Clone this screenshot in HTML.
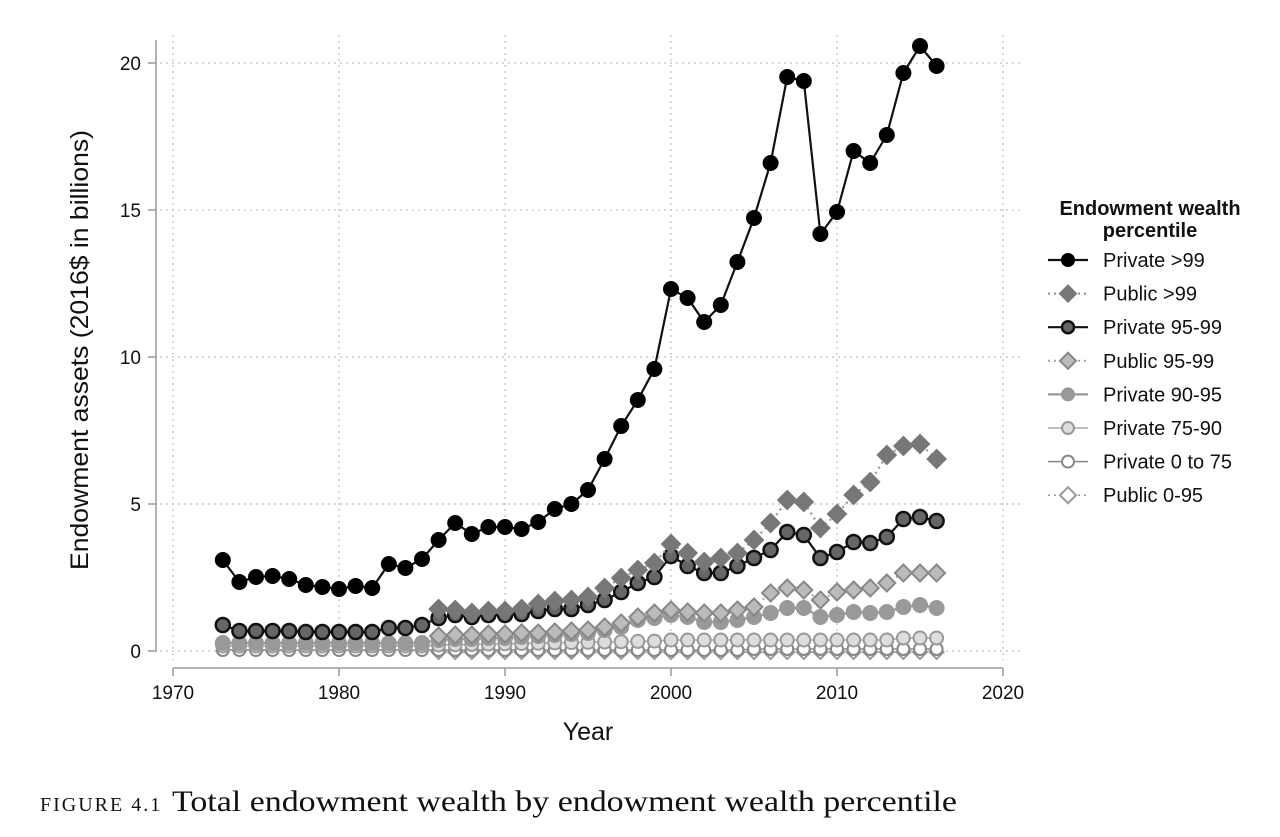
<!DOCTYPE html>
<html><head><meta charset="utf-8"><style>
html,body{margin:0;padding:0;background:#fff;}
svg{display:block;font-family:"Liberation Sans",sans-serif;}
</style></head><body>
<svg id="s" width="1280" height="837" viewBox="0 0 1280 837" xmlns="http://www.w3.org/2000/svg"></svg>
<script>
const s=document.getElementById('s');let h='';
const X=y=>173+16.6*(y-1970);
for(let y=1970;y<=2020;y+=10)h+=`<line x1="${X(y)}" y1="35" x2="${X(y)}" y2="660" stroke="#ccc" stroke-width="1.5" stroke-dasharray="2,4"/>`;
for(let v=0;v<=20;v+=5){const yy=651-29.4*v;h+=`<line x1="160" y1="${yy}" x2="1020" y2="${yy}" stroke="#ccc" stroke-width="1.5" stroke-dasharray="2,4"/>`;
h+=`<line x1="148" y1="${yy}" x2="156" y2="${yy}" stroke="#999" stroke-width="1.5"/><text x="141" y="${yy+7}" font-size="19" text-anchor="end" fill="#111">${v}</text>`;}
h+=`<line x1="156" y1="40" x2="156" y2="652" stroke="#999" stroke-width="1.5"/>`;
h+=`<line x1="173" y1="668" x2="1003" y2="668" stroke="#999" stroke-width="1.5"/>`;
for(let y=1970;y<=2020;y+=10)h+=`<line x1="${X(y)}" y1="668" x2="${X(y)}" y2="676" stroke="#999" stroke-width="1.5"/><text x="${X(y)}" y="699" font-size="19" text-anchor="middle" fill="#111">${y}</text>`;
h+=`<text x="588" y="740" font-size="25" text-anchor="middle" fill="#111">Year</text>`;
h+=`<text transform="translate(88,350) rotate(-90)" font-size="25" text-anchor="middle" textLength="440" lengthAdjust="spacingAndGlyphs" fill="#111">Endowment assets (2016$ in billions)</text>`;
const yrs=[];for(let y=1973;y<=2016;y++)yrs.push(y);
const p99=[560,582,577,576,579,585,587,589,586,588,564,568,559,540,523,534,527,527,529,522,509,504,490,459,426,400,369,289,298,322,305,262,218,163,77,81,234,212,151,163,135,73,46,66];
const p9599=[625,631,631,631,631,632,632,632,632,632,628,628,625,618,615,617,615,615,614,611,609,609,605,600,592,583,577,556,566,573,573,566,558,550,532,535,558,552,542,543,537,519,517,521];
const pub99=[609,610,613,611,611,609,604,601,600,597,588,578,570,563,544,553,562,558,553,540,523,500,502,528,514,495,482,455,446,444,459];
const pub9599=[636,635,635,634,634,633,633,632,631,630,627,623,617,613,610,612,613,613,610,607,593,588,590,600,592,590,588,583,573,573,573];
const p9095=[]; for(let i=0;i<44;i++){const y=yrs[i];p9095.push(y<1986?643:[640,639,639,638,638,637,636,635,634,633,630,627,620,618,615,617,622,622,620,617,613,608,608,617,615,612,613,612,607,605,608][y-1986]);}
const p7590=yrs.map(y=>y<1986?646:y<2000?645-(y-1986)*0.3:y<2014?640:638);
const p075=yrs.map(y=>y<2005?650:649);
const pub095=pub99.map(()=>652);
const pubyrs=yrs.filter(y=>y>=1986);
function series(ys,vals,o){let pts=ys.map((y,i)=>X(y).toFixed(1)+','+vals[i]).join(' ');
 h+=`<polyline points="${pts}" fill="none" stroke="${o.lc}" stroke-width="${o.lw||2.2}" ${o.dash?'stroke-dasharray="2,4"':''}/>`;
 ys.forEach((y,i)=>h+=mk(X(y),vals[i],o));}
function mk(x,y,o){if(o.d){const r=o.r||9;return `<polygon points="${x},${y-r} ${x+r},${y} ${x},${y+r} ${x-r},${y}" fill="${o.f}" stroke="${o.sc}" stroke-width="${o.sw||2}"/>`;}
 return `<circle cx="${x}" cy="${y}" r="${o.r||7}" fill="${o.f}" stroke="${o.sc}" stroke-width="${o.sw||2}"/>`;}
const S=[
 [pubyrs,pub095,{lc:'#999',dash:1,d:1,f:'#fff',sc:'#999',r:7,lw:1.5},'Public 0-95'],
 [yrs,p075,{lc:'#888',f:'#fff',sc:'#888',r:6,lw:1.5},'Private 0 to 75'],
 [yrs,p7590,{lc:'#aaa',f:'#ddd',sc:'#999',r:6.5,lw:1.5},'Private 75-90'],
 [yrs,p9095,{lc:'#999',f:'#999',sc:'#999',r:7},'Private 90-95'],
 [pubyrs,pub9599,{lc:'#aaa',dash:1,d:1,f:'#bbb',sc:'#888',r:8.5},'Public 95-99'],
 [yrs,p9599,{lc:'#111',f:'#666',sc:'#111',r:7,sw:2.5},'Private 95-99'],
 [pubyrs,pub99,{lc:'#999',dash:1,d:1,f:'#777',sc:'#777',r:9},'Public >99'],
 [yrs,p99,{lc:'#111',f:'#000',sc:'#000',r:7},'Private >99']];
S.forEach(a=>series(a[0],a[1],a[2]));
h+=`<text x="1150" y="215" font-size="20" font-weight="bold" text-anchor="middle" fill="#111">Endowment wealth</text><text x="1150" y="237" font-size="20" font-weight="bold" text-anchor="middle" fill="#111">percentile</text>`;
S.slice().reverse().forEach((a,i)=>{const y=260+i*33.6,o=a[2];
 h+=`<line x1="1048" y1="${y}" x2="1088" y2="${y}" stroke="${o.lc}" stroke-width="${o.lw||2.2}" ${o.dash?'stroke-dasharray="2,4"':''}/>`;
 h+=mk(1068,y,Object.assign({},o,{r:o.d?8:6}));
 h+=`<text x="1103" y="${y+7}" font-size="20" fill="#111">${a[3]}</text>`;});
h+=`<text x="40" y="811" font-family="Liberation Serif,serif" font-size="20" letter-spacing="2" fill="#111">FIGURE 4.1</text>`;
h+=`<text x="172" y="811" font-family="Liberation Serif,serif" font-size="30" textLength="785" lengthAdjust="spacingAndGlyphs" fill="#111">Total endowment wealth by endowment wealth percentile</text>`;
s.innerHTML=h;
</script>
</body></html>
